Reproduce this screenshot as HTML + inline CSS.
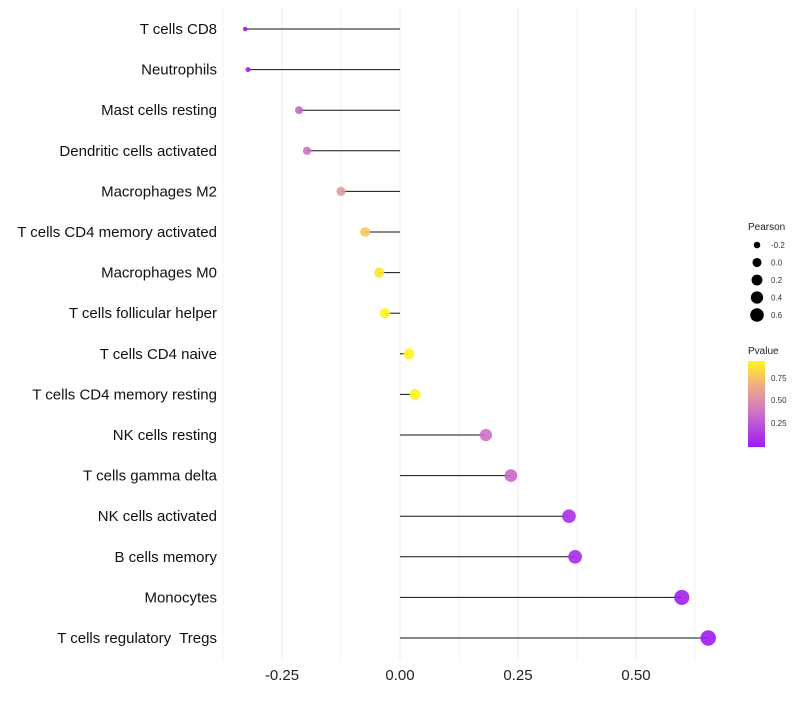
<!DOCTYPE html>
<html><head><meta charset="utf-8"><style>
body{margin:0;background:#fff;font-family:"Liberation Sans",sans-serif}
text{white-space:pre}
</style></head><body>
<svg id="chart" width="800" height="700" xmlns="http://www.w3.org/2000/svg" font-family="Liberation Sans, sans-serif">
<defs><linearGradient id="pg" x1="0" y1="1" x2="0" y2="0">
<stop offset="0" stop-color="#9E1BF5"/><stop offset="0.45" stop-color="#D47CC0"/><stop offset="0.75" stop-color="#F2B47A"/><stop offset="1" stop-color="#FFF71A"/></linearGradient></defs>
<g id="grid"></g><g id="marks"></g><g id="labels"></g>
<g id="legS">
<text x="748" y="230" font-size="10" fill="#222">Pearson</text></g>
<g>
<text x="748" y="354" font-size="10" fill="#222">Pvalue</text>
<rect x="748" y="361" width="17" height="86" fill="url(#pg)"/>
<text x="771" y="381" font-size="8" fill="#333">0.75</text>
<text x="771" y="403" font-size="8" fill="#333">0.50</text>
<text x="771" y="426" font-size="8" fill="#333">0.25</text>
</g>
</svg>
<script>
const categories=["T cells CD8","Neutrophils","Mast cells resting","Dendritic cells activated","Macrophages M2","T cells CD4 memory activated","Macrophages M0","T cells follicular helper","T cells CD4 naive","T cells CD4 memory resting","NK cells resting","T cells gamma delta","NK cells activated","B cells memory","Monocytes","T cells regulatory  Tregs"];
const pearson=[-0.328,-0.322,-0.214,-0.197,-0.125,-0.074,-0.044,-0.032,0.019,0.032,0.182,0.235,0.358,0.371,0.597,0.653];
const pvalue=[0.04,0.05,0.35,0.4,0.6,0.8,0.9,0.95,0.96,0.95,0.4,0.36,0.12,0.1,0.05,0.03];
const xTicks=[-0.25,0,0.25,0.5];
const xTickLabels=["-0.25","0.00","0.25","0.50"];
const sizeLegend=[-0.2,0,0.2,0.4,0.6];
const NS="http://www.w3.org/2000/svg";
const x=v=>400+v*472;
const y=i=>29+i*40.6;
const r=v=>2+5.8*Math.sqrt(Math.max(0,v+0.33));
function col(p){const s=[[0,[158,27,245]],[0.45,[212,124,192]],[0.75,[242,180,122]],[1,[255,247,26]]];
 const t=Math.max(0,Math.min(1,(p-0.03)/0.93));
 for(let k=1;k<s.length;k++){if(t<=s[k][0]){const a=s[k-1],b=s[k],f=(t-a[0])/(b[0]-a[0]);
 return "rgb("+a[1].map((c,j)=>Math.round(c+(b[1][j]-c)*f)).join(",")+")";}}return "rgb(255,247,26)";}
function mk(t,a,p){const e=document.createElementNS(NS,t);for(const k in a)e.setAttribute(k,a[k]);(p||document.getElementById("marks")).appendChild(e);return e;}
const grid=document.getElementById("grid"),labels=document.getElementById("labels");
for(let g=-0.375;g<=0.63;g+=0.125){const l=mk("line",{x1:x(g),x2:x(g),y1:8,y2:660,stroke:"#ebebeb","stroke-width":Math.abs(g*4-Math.round(g*4))<1e-6?1:0.6},grid);

}
xTicks.forEach((t,i)=>{const e=mk("text",{x:x(t),y:680,"font-size":15,"text-anchor":"middle",fill:"#222"},labels);e.textContent=xTickLabels[i];

});
categories.forEach((c,i)=>{
 const t=mk("text",{x:217,y:y(i)+5,"font-size":15,"text-anchor":"end",fill:"#111"},labels);t.textContent=c;
 
 
 const ln=mk("line",{x1:x(0),x2:x(pearson[i]),y1:y(i),y2:y(i),stroke:"#111","stroke-width":1});
 
 
 const d=mk("circle",{cx:x(pearson[i]),cy:y(i),r:r(pearson[i]),fill:col(pvalue[i]),"fill-opacity":0.9});
 
 
});
const legS=document.getElementById("legS");
sizeLegend.forEach((v,i)=>{const yy=245+i*17.5;
 const c=mk("circle",{cx:757,cy:yy,r:r(v)-0.8,fill:"#000"},legS);
 
 
 const t=mk("text",{x:771,y:yy+3,"font-size":8,fill:"#333"},legS);t.textContent=v.toFixed(1);
 
 });
</script>
</body></html>
